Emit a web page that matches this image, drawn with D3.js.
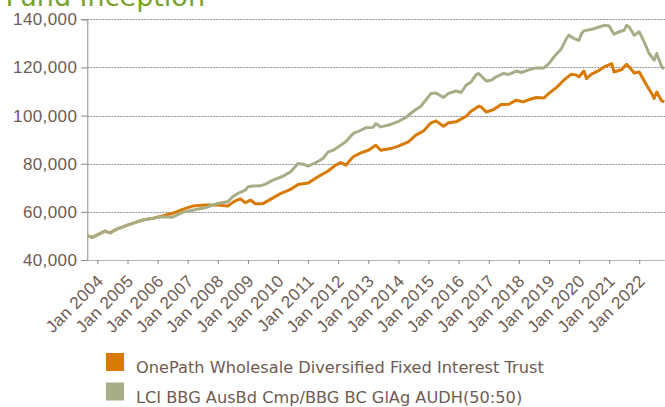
<!DOCTYPE html>
<html>
<head>
<meta charset="utf-8">
<script src="https://cdn.jsdelivr.net/npm/d3@7"></script>
<style>
  body { margin: 0; background: #fff; }
  svg { display: block; }
  .ax text { font-family: "Liberation Sans", Arial, sans-serif; }
</style>
</head>
<body>
<svg></svg>
<script>
// growth of 50,000 - month and value
const onePathDates = ["2003-09","2003-11","2004-04","2004-06","2004-09","2005-01","2005-04","2005-07","2005-11","2006-03",
  "2006-07","2006-11","2007-03","2007-08","2008-01","2008-05","2008-08","2008-10","2008-12","2009-02",
  "2009-04","2009-07","2009-10","2010-02","2010-06","2010-09","2011-01","2011-05","2011-09","2011-12",
  "2012-02","2012-04","2012-07","2012-10","2013-01","2013-04","2013-06","2013-10","2014-01","2014-05",
  "2014-08","2014-11","2015-02","2015-04","2015-07","2015-09","2015-12","2016-04","2016-06","2016-09",
  "2016-10","2016-12","2017-03","2017-06","2017-09","2017-12","2018-03","2018-05","2018-08","2018-11",
  "2019-01","2019-04","2019-07","2019-10","2019-12","2020-01","2020-03","2020-04","2020-06","2020-09",
  "2020-11","2021-02","2021-03","2021-06","2021-08","2021-09","2021-11","2022-01","2022-04","2022-06",
  "2022-07","2022-08","2022-10","2022-11"]
const onePathValues = [50000,49400,52000,51300,52900,54500,55500,56600,57300,58300,
  59400,61000,62400,62800,62800,62400,64600,65400,63800,64900,
  63400,63400,65200,67600,69300,71400,72000,74600,77000,79400,
  80500,79400,82900,84500,85600,87700,85600,86300,87300,89100,
  91900,93600,97000,97800,95600,97000,97400,99700,101800,103900,
  103600,101500,102500,104600,104700,106400,105700,106600,107500,107300,
  109200,111600,114700,117200,116800,116100,118500,115400,117200,118800,
  120200,121600,118100,119100,121300,120200,117700,118100,112600,109200,
  107100,109800,106100,105700]

const benchDates = ["2003-09","2003-11","2004-04","2004-06","2004-09","2005-01","2005-04","2005-07","2005-11","2006-03",
  "2006-07","2006-11","2007-03","2007-08","2008-01","2008-05","2008-07","2008-09","2008-12","2009-01",
  "2009-03","2009-06","2009-08","2009-11","2010-03","2010-06","2010-09","2010-11","2011-01","2011-04",
  "2011-07","2011-09","2011-11","2012-02","2012-04","2012-07","2012-10","2012-12","2013-03","2013-04",
  "2013-06","2013-10","2014-01","2014-04","2014-07","2014-10","2015-02","2015-04","2015-07","2015-09",
  "2015-12","2016-02","2016-04","2016-06","2016-08","2016-09","2016-12","2017-02","2017-04","2017-07",
  "2017-09","2017-12","2018-02","2018-05","2018-08","2018-11","2019-01","2019-03","2019-06","2019-08",
  "2019-09","2019-11","2020-01","2020-02","2020-03","2020-07","2020-09","2020-11","2021-01","2021-03",
  "2021-05","2021-07","2021-08","2021-09","2021-11","2022-01","2022-03","2022-05","2022-07","2022-08",
  "2022-10","2022-11"]
const benchValues = [50000,49400,52000,51300,52900,54500,55500,56600,57300,58000,
  57800,59800,60700,61700,63500,64200,66300,67700,69000,70400,
  70700,70800,71500,73200,74800,76600,80100,79800,79000,80400,
  82200,84900,85600,87700,89100,92600,93900,94900,95100,96700,
  95300,96300,97600,99200,101800,103900,109200,109400,107500,109200,
  110200,109600,112600,114000,117000,117500,114400,114700,116100,117500,
  117100,118500,117900,119000,119800,119800,121600,124300,127800,132000,
  133400,132000,131300,134100,135200,136100,136800,137500,137200,133800,
  134800,135400,137500,136800,133400,134800,130600,125800,123000,125800,
  120200,119500]

const seriesNames = ["OnePath Wholesale Diversified Fixed Interest Trust", "LCI BBG AusBd Cmp/BBG BC GlAg AUDH(50:50)"]
const seriesColors = ["#d97a00", "#a8ad88"]
const yTicks = [40000, 60000, 80000, 100000, 120000, 140000]

const width = 665, height = 407
const svg = d3.select("svg").attr("width", width).attr("height", height)

const parse = d3.timeParse("%Y-%m")
const onePath = onePathDates.map((d, i) => ({date: parse(d), value: onePathValues[i]}))
const bench = benchDates.map((d, i) => ({date: parse(d), value: benchValues[i]}))

const margin = {top: 19.3, bottom: 260, left: 87.3, right: 664.3}

const xScale = d3.scaleTime()
  .domain([parse("2003-09"), parse("2022-11")])
  .range([margin.left, margin.right])

const yScale = d3.scaleLinear()
  .domain([40000, 140000])
  .range([margin.bottom, margin.top])

const textColor = "#6f5b52"

// title, only its lower part is inside the picture
svg.append("text")
  .attr("x", 205).attr("y", 6)
  .attr("text-anchor", "end")
  .style("font-family", "'DejaVu Sans', Verdana, sans-serif")
  .attr("font-size", 27)
  .attr("fill", "#78a22c")
  .text("Growth of $50,000 since Fund Inception")

// grid
svg.append("g").selectAll("line")
  .data(yTicks.slice(1))
  .enter().append("line")
  .attr("x1", margin.left).attr("x2", width)
  .attr("y1", d => Math.round(yScale(d)) + 0.5)
  .attr("y2", d => Math.round(yScale(d)) + 0.5)
  .attr("stroke", "#8f8f8f")
  .attr("stroke-dasharray", "2,1")

// y axis
const yAxis = d3.axisLeft(yScale)
  .tickValues(yTicks)
  .tickFormat(d3.format(","))
  .tickSize(6)
  .tickPadding(4)

const yAxisG = svg.append("g")
  .attr("class", "ax")
  .attr("transform", `translate(${margin.left},0)`)
  .call(yAxis)
yAxisG.select(".domain").attr("stroke", "#8a8a8a")
yAxisG.selectAll(".tick line").attr("stroke", "#8a8a8a")
yAxisG.selectAll("text")
  .attr("fill", textColor)
  .attr("font-size", 17)
  .style("letter-spacing", "0.4px")

// x axis
const xAxis = d3.axisBottom(xScale)
  .ticks(d3.timeYear.every(1))
  .tickFormat(d3.timeFormat("Jan %Y"))
  .tickSize(4)
  .tickSizeOuter(0)

const xAxisG = svg.append("g")
  .attr("class", "ax")
  .attr("transform", `translate(0,${margin.bottom})`)
  .call(xAxis)
xAxisG.select(".domain").attr("stroke", "#b5b5b5")
xAxisG.selectAll(".tick line").attr("stroke", "#8a8a8a")
xAxisG.selectAll("text")
  .attr("y", 0).attr("dy", 0)
  .attr("transform", "translate(6.5,22) rotate(-45)")
  .style("text-anchor", "end")
  .attr("fill", textColor)
  .attr("font-size", 17)
  .style("letter-spacing", "0.4px")

// lines
const line = d3.line()
  .x(d => xScale(d.date))
  .y(d => yScale(d.value))

svg.append("path")
  .datum(onePath)
  .attr("fill", "none")
  .attr("stroke", seriesColors[0])
  .attr("stroke-width", 3)
  .attr("stroke-linejoin", "round")
  .attr("d", line)

svg.append("path")
  .datum(bench)
  .attr("fill", "none")
  .attr("stroke", seriesColors[1])
  .attr("stroke-width", 3)
  .attr("stroke-linejoin", "round")
  .attr("d", line)

// legend
const legend = svg.append("g")
  .attr("transform", "translate(106,353)")

const items = legend.selectAll("g")
  .data(seriesNames)
  .enter().append("g")
  .attr("transform", (d, i) => `translate(0,${i * 29.5})`)

items.append("rect")
  .attr("width", 18).attr("height", 18)
  .attr("fill", (d, i) => seriesColors[i])

items.append("text")
  .attr("x", 30).attr("y", 20)
  .style("font-family", "'DejaVu Sans', Verdana, sans-serif")
  .attr("font-size", 16.2)
  .attr("fill", textColor)
  .text(d => d)
</script>
</body>
</html>
